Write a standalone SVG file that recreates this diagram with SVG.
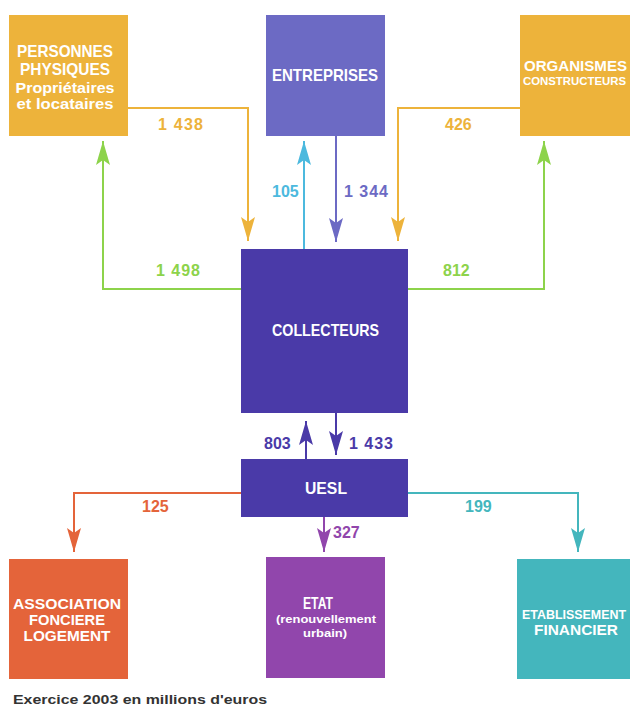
<svg xmlns="http://www.w3.org/2000/svg" width="630" height="707" viewBox="0 0 630 707">
<style>
.box text{font-family:"Liberation Sans",Arial,sans-serif;font-weight:bold;fill:#fff;text-anchor:middle}
.t{font-size:17px}
.m{font-size:15.5px}
.s{font-size:15px}
.xs{font-size:11px}
.lab{font-family:"Liberation Sans",Arial,sans-serif;font-weight:bold;font-size:16px}
.ln{fill:none;stroke-width:2}
</style>
<defs>
<marker id="aOr" markerUnits="userSpaceOnUse" markerWidth="24" markerHeight="14" refX="24" refY="7" orient="auto"><path d="M0,0 L24,7 L0,14 L5,7 z" fill="#EDB33B"/></marker>
<marker id="aGr" markerUnits="userSpaceOnUse" markerWidth="24" markerHeight="14" refX="24" refY="7" orient="auto"><path d="M0,0 L24,7 L0,14 L5,7 z" fill="#8DD34B"/></marker>
<marker id="aCy" markerUnits="userSpaceOnUse" markerWidth="24" markerHeight="14" refX="24" refY="7" orient="auto"><path d="M0,0 L24,7 L0,14 L5,7 z" fill="#4CB9DE"/></marker>
<marker id="aPu" markerUnits="userSpaceOnUse" markerWidth="24" markerHeight="14" refX="24" refY="7" orient="auto"><path d="M0,0 L24,7 L0,14 L5,7 z" fill="#6C6AC4"/></marker>
<marker id="aDk" markerUnits="userSpaceOnUse" markerWidth="24" markerHeight="14" refX="24" refY="7" orient="auto"><path d="M0,0 L24,7 L0,14 L5,7 z" fill="#4A3AA8"/></marker>
<marker id="aRd" markerUnits="userSpaceOnUse" markerWidth="24" markerHeight="14" refX="24" refY="7" orient="auto"><path d="M0,0 L24,7 L0,14 L5,7 z" fill="#E4643A"/></marker>
<marker id="aVi" markerUnits="userSpaceOnUse" markerWidth="24" markerHeight="14" refX="24" refY="7" orient="auto"><path d="M0,0 L24,7 L0,14 L5,7 z" fill="#9146AC"/></marker>
<marker id="aTe" markerUnits="userSpaceOnUse" markerWidth="24" markerHeight="14" refX="24" refY="7" orient="auto"><path d="M0,0 L24,7 L0,14 L5,7 z" fill="#44B6BD"/></marker>
</defs>
<rect width="630" height="707" fill="#fff"/>

<g id="connectors">
<path class="ln" stroke="#EDB33B" d="M128,108 H248 V241" marker-end="url(#aOr)"/>
<path class="ln" stroke="#EDB33B" d="M520,108 H398 V241" marker-end="url(#aOr)"/>
<path class="ln" stroke="#8DD34B" d="M241,289 H103 V141" marker-end="url(#aGr)"/>
<path class="ln" stroke="#8DD34B" d="M408,289 H544 V141" marker-end="url(#aGr)"/>
<path class="ln" stroke="#4CB9DE" d="M304,249 V141" marker-end="url(#aCy)"/>
<path class="ln" stroke="#6C6AC4" d="M336,136 V242" marker-end="url(#aPu)"/>
<path class="ln" stroke="#4A3AA8" d="M306,459 V421" marker-end="url(#aDk)"/>
<path class="ln" stroke="#4A3AA8" d="M336,413 V455" marker-end="url(#aDk)"/>
<path class="ln" stroke="#E4643A" d="M241,493 H74 V552" marker-end="url(#aRd)"/>
<path class="ln" stroke="#9146AC" d="M324,517 V552" marker-end="url(#aVi)"/>
<path class="ln" stroke="#44B6BD" d="M408,493 H578 V552" marker-end="url(#aTe)"/>
<text class="lab" fill="#EDB33B" x="158" y="130" textLength="45">1 438</text>
<text class="lab" fill="#EDB33B" x="445" y="130">426</text>
<text class="lab" fill="#8DD34B" x="156" y="276" textLength="44">1 498</text>
<text class="lab" fill="#8DD34B" x="443" y="276">812</text>
<text class="lab" fill="#4CB9DE" x="272" y="197">105</text>
<text class="lab" fill="#6C6AC4" x="344" y="197" textLength="44">1 344</text>
<text class="lab" fill="#4A3AA8" x="264" y="449">803</text>
<text class="lab" fill="#4A3AA8" x="349" y="449" textLength="44">1 433</text>
<text class="lab" fill="#E4643A" x="142" y="512">125</text>
<text class="lab" fill="#9146AC" x="333" y="538">327</text>
<text class="lab" fill="#44B6BD" x="465" y="512">199</text>
</g>

<g id="personnes" class="box">
<rect x="9" y="15" width="119" height="121" fill="#EDB33B"/>
<text class="t" x="65" y="57" textLength="96" lengthAdjust="spacingAndGlyphs">PERSONNES</text>
<text class="t" x="65" y="75" textLength="90" lengthAdjust="spacingAndGlyphs">PHYSIQUES</text>
<text class="s" x="65" y="93" textLength="99" lengthAdjust="spacingAndGlyphs">Propriétaires</text>
<text class="s" x="65" y="109" textLength="97" lengthAdjust="spacingAndGlyphs">et locataires</text>
</g>

<g id="entreprises" class="box">
<rect x="266" y="15" width="119" height="121" fill="#6C6AC4"/>
<text class="t" x="325" y="81" textLength="106" lengthAdjust="spacingAndGlyphs">ENTREPRISES</text>
</g>

<g id="organismes" class="box">
<rect x="520" y="15" width="110" height="121" fill="#EDB33B"/>
<text x="524" y="71" style="text-anchor:start;font-size:15px" textLength="103" lengthAdjust="spacingAndGlyphs">ORGANISMES</text>
<text x="523" y="85" style="text-anchor:start;font-size:11.5px" textLength="103" lengthAdjust="spacingAndGlyphs">CONSTRUCTEURS</text>
</g>

<g id="collecteurs" class="box">
<rect x="241" y="249" width="167" height="164" fill="#4A3AA8"/>
<text class="t" x="325.5" y="336" textLength="107" lengthAdjust="spacingAndGlyphs">COLLECTEURS</text>
</g>

<g id="uesl" class="box">
<rect x="241" y="459" width="167" height="58" fill="#4A3AA8"/>
<text class="t" x="326" y="494" textLength="42" lengthAdjust="spacingAndGlyphs">UESL</text>
</g>

<g id="association" class="box">
<rect x="9" y="559" width="119" height="120" fill="#E4643A"/>
<text class="m" x="67" y="609" textLength="108" lengthAdjust="spacingAndGlyphs">ASSOCIATION</text>
<text class="m" x="67" y="625" textLength="76" lengthAdjust="spacingAndGlyphs">FONCIERE</text>
<text class="m" x="67" y="641" textLength="87" lengthAdjust="spacingAndGlyphs">LOGEMENT</text>
</g>

<g id="etat" class="box">
<rect x="266" y="557" width="119" height="121" fill="#9146AC"/>
<text class="t" x="318" y="609" textLength="30" lengthAdjust="spacingAndGlyphs">ETAT</text>
<text class="xs" x="326" y="623" textLength="100" lengthAdjust="spacingAndGlyphs">(renouvellement</text>
<text class="xs" x="325" y="637" textLength="44" lengthAdjust="spacingAndGlyphs">urbain)</text>
</g>

<g id="etablissement" class="box">
<rect x="517" y="559" width="113" height="120" fill="#44B6BD"/>
<text x="522" y="619" style="text-anchor:start;font-size:12.3px" textLength="104" lengthAdjust="spacingAndGlyphs">ETABLISSEMENT</text>
<text x="576" y="635" style="font-size:14px" textLength="84" lengthAdjust="spacingAndGlyphs">FINANCIER</text>
</g>

<text x="13" y="704" font-family="Liberation Sans, Arial, sans-serif" font-weight="bold" font-size="12.5" fill="#333" textLength="254" lengthAdjust="spacingAndGlyphs">Exercice 2003 en millions d'euros</text>
</svg>
